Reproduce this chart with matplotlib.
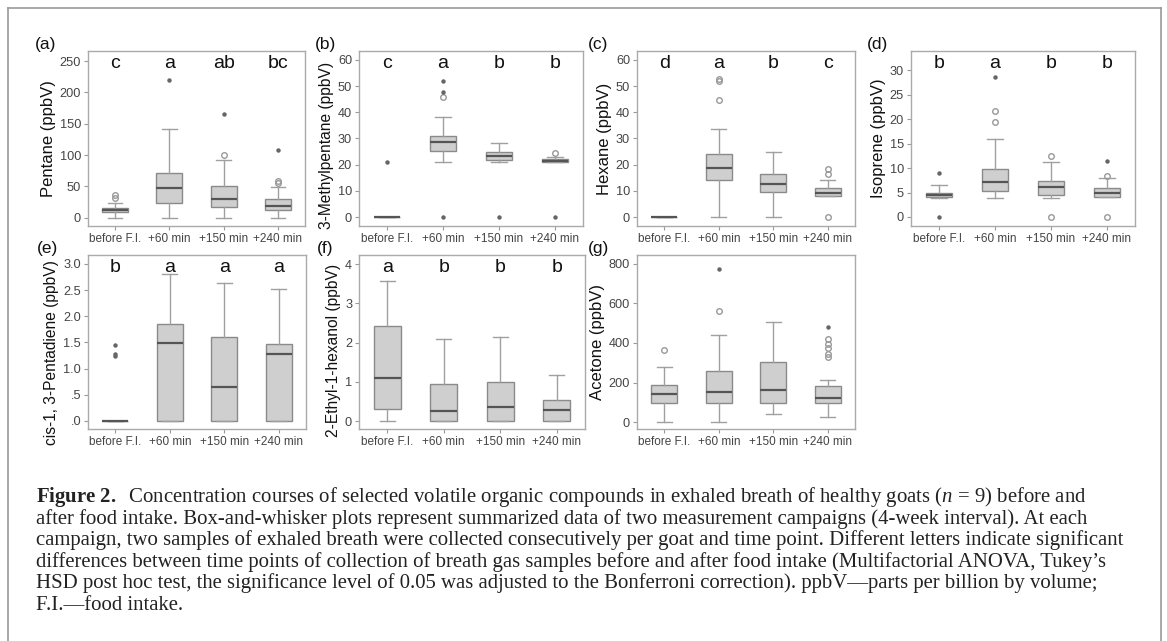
import matplotlib
matplotlib.use("Agg")
import matplotlib.pyplot as plt
from matplotlib.lines import Line2D
from matplotlib.ticker import FuncFormatter

plt.rcParams['font.family'] = ['Liberation Sans', 'DejaVu Sans']
plt.rcParams['mathtext.fontset'] = 'custom'
plt.rcParams['mathtext.rm'] = 'Liberation Serif'
plt.rcParams['mathtext.it'] = 'Liberation Serif:italic'
plt.rcParams['mathtext.bf'] = 'Liberation Serif:bold'

groups = ["before F.I.", "+60 min", "+150 min", "+240 min"]

# each box: (whisker low, q1, median, q3, whisker high)
pentane = [(0, 9, 12, 16, 23), (0, 23, 48, 71, 141), (0, 17, 30, 50, 92), (0, 13, 19, 30, 49)]
pentane_circ = [[31, 37], [], [100], [56, 59]]
pentane_star = [[], [220], [166], [108]]
pentane_letters = ["c", "a", "ab", "bc"]

methylp = [(0, 0, 0, 0, 0), (21, 25.3, 28.5, 31, 38.3), (20.9, 21.8, 23.4, 24.7, 28.2), (21, 21, 21.4, 22, 23)]
methylp_circ = [[], [45.7], [], [24.3]]
methylp_star = [[21], [47.6, 52, 0], [0], [0]]
methylp_letters = ["c", "a", "b", "b"]

hexane = [(0, 0, 0, 0, 0), (0, 14.1, 18.8, 24, 33.6), (0, 9.7, 12.5, 16.3, 24.7), (8, 8, 9.3, 11, 14.1)]
hexane_circ = [[], [44.7, 52, 52.8], [], [16.3, 18.2, 0]]
hexane_star = [[], [], [], []]
hexane_letters = ["d", "a", "b", "c"]

isoprene = [(3.9, 4.0, 4.5, 5.0, 6.5), (3.9, 5.3, 7.2, 9.8, 15.9), (3.9, 4.4, 6.1, 7.4, 11.3), (4.0, 4.1, 5.0, 5.85, 7.9)]
isoprene_circ = [[], [19.4, 21.6], [12.4, 0], [8.3, 0]]
isoprene_star = [[8.9, 0], [28.5], [], [11.5]]
isoprene_letters = ["b", "a", "b", "b"]

pentadiene = [(0, 0, 0, 0, 0), (0, 0, 1.49, 1.85, 2.80), (0, 0, 0.64, 1.61, 2.63), (0, 0, 1.28, 1.47, 2.52)]
pentadiene_circ = [[], [], [], []]
pentadiene_star = [[1.45, 1.28, 1.25], [], [], []]
pentadiene_letters = ["b", "a", "a", "a"]

ethylhex = [(0, 0.30, 1.11, 2.41, 3.58), (0, 0, 0.26, 0.94, 2.09), (0, 0, 0.35, 0.99, 2.14), (0, 0, 0.28, 0.54, 1.18)]
ethylhex_circ = [[], [], [], []]
ethylhex_star = [[], [], [], []]
ethylhex_letters = ["a", "b", "b", "b"]

acetone = [(0, 99, 141, 189, 281), (0, 94, 150, 257, 439), (39, 99, 163, 306, 504), (26, 94, 124, 184, 214)]
acetone_circ = [[363], [562], [], [330, 345, 375, 395, 420]]
acetone_star = [[], [774], [], [482]]
acetone_letters = None

# tag, tag x, y label, label size, label centre, boxes, circles, stars, letters, pixel box, ylim, yticks
panels = [
    ("(a)", 35, "Pentane (ppbV)", 12, 0.5, pentane, pentane_circ, pentane_star, pentane_letters,
     (88, 51, 305, 226), (-13, 266), [0, 50, 100, 150, 200, 250]),
    ("(b)", 315, "3-Methylpentane (ppbV)", 11.2, 0.46, methylp, methylp_circ, methylp_star, methylp_letters,
     (359, 51, 583, 226), (-3.4, 63.4), [0, 10, 20, 30, 40, 50, 60]),
    ("(c)", 588, "Hexane (ppbV)", 12, 0.5, hexane, hexane_circ, hexane_star, hexane_letters,
     (637, 51, 855, 226), (-3.4, 63.4), [0, 10, 20, 30, 40, 50, 60]),
    ("(d)", 867, "Isoprene (ppbV)", 12, 0.5, isoprene, isoprene_circ, isoprene_star, isoprene_letters,
     (911, 51, 1135, 226), (-1.84, 33.9), [0, 5, 10, 15, 20, 25, 30]),
    ("(e)", 37, "cis-1, 3-Pentadiene (ppbV)", 11.2, 0.44, pentadiene, pentadiene_circ, pentadiene_star, pentadiene_letters,
     (88, 255, 306, 429), (-0.153, 3.17), [0, 0.5, 1.0, 1.5, 2.0, 2.5, 3.0]),
    ("(f)", 317, "2-Ethyl-1-hexanol (ppbV)", 11.2, 0.45, ethylhex, ethylhex_circ, ethylhex_star, ethylhex_letters,
     (359, 255, 585, 429), (-0.2, 4.23), [0, 1, 2, 3, 4]),
    ("(g)", 588, "Acetone (ppbV)", 12, 0.5, acetone, acetone_circ, acetone_star, acetone_letters,
     (637, 255, 855, 429), (-35, 845), [0, 200, 400, 600, 800]),
]

W, H = 1167, 641
fig = plt.figure(figsize=(W / 100, H / 100), dpi=100)

box_col = "#cfcfcf"
edge_col = "#8a8a8a"
tick_col = "#444444"

for tag, tagx, ylab, labsize, laby, boxes, circ, star, letters, px, ylim, yticks in panels:
    x0, y0, x1, y1 = px
    ax = fig.add_axes([x0 / W, 1 - y1 / H, (x1 - x0) / W, (y1 - y0) / H])
    stats = []
    for lo, q1, med, q3, hi in boxes:
        stats.append(dict(whislo=lo, q1=q1, med=med, q3=q3, whishi=hi, fliers=[]))
    ax.bxp(stats, positions=[1, 2, 3, 4], widths=0.48, patch_artist=True, showfliers=False,
           boxprops=dict(facecolor=box_col, edgecolor=edge_col, linewidth=1.0),
           medianprops=dict(color="#555555", linewidth=1.6),
           whiskerprops=dict(color="#a0a0a0", linewidth=1.0),
           capprops=dict(color="#a0a0a0", linewidth=1.0), capwidths=0.27)
    for i in range(4):
        if circ[i]:
            ax.plot([i + 1] * len(circ[i]), circ[i], "o", ms=4, mfc="none", mec="#999999", mew=1.0)
        if star[i]:
            ax.plot([i + 1] * len(star[i]), star[i], "o", ms=2.2, color="#666666")
        if letters:
            ax.text(i + 1, 0.93, letters[i], transform=ax.get_xaxis_transform(),
                    ha="center", va="center", fontsize=14, color="#111111")
    ax.set_xlim(0.5, 4.5)
    ax.set_ylim(*ylim)
    ax.set_yticks(yticks)
    if tag == "(e)":
        ax.yaxis.set_major_formatter(FuncFormatter(lambda v, p: ("%.1f" % v).lstrip("0") if v < 1 else "%.1f" % v))
    ax.set_xticks([1, 2, 3, 4])
    ax.set_xticklabels(groups)
    ax.tick_params(axis="both", colors="#999999", labelcolor=tick_col, length=3, width=0.8)
    ax.tick_params(axis="x", labelsize=8.5, pad=2)
    ax.tick_params(axis="y", labelsize=9.2, pad=2)
    ax.set_ylabel(ylab, fontsize=labsize, color="#111111", labelpad=3)
    ax.yaxis.label.set_y(laby)
    for s in ax.spines.values():
        s.set_color("#aaaaaa")
        s.set_linewidth(1.0)
    fig.text(tagx / W, 1 - (y0 - 7) / H, tag, fontsize=12.5, ha="left", va="center", color="#111111")

# outer frame
fig.add_artist(Line2D([8 / W, 1161 / W], [1 - 8 / H, 1 - 8 / H], color="#999999", lw=1.2))
fig.add_artist(Line2D([8 / W, 8 / W], [1 - 8 / H, 0], color="#999999", lw=1.2))
fig.add_artist(Line2D([1161 / W, 1161 / W], [1 - 8 / H, 0], color="#999999", lw=1.2))

caption = [
    r"$\mathbf{Figure\ 2.}$  Concentration courses of selected volatile organic compounds in exhaled breath of healthy goats ($n$ = 9) before and",
    "after food intake. Box-and-whisker plots represent summarized data of two measurement campaigns (4-week interval). At each",
    "campaign, two samples of exhaled breath were collected consecutively per goat and time point. Different letters indicate significant",
    "differences between time points of collection of breath gas samples before and after food intake (Multifactorial ANOVA, Tukey\u2019s",
    "HSD post hoc test, the significance level of 0.05 was adjusted to the Bonferroni correction). ppbV\u2014parts per billion by volume;",
    "F.I.\u2014food intake.",
]
for k, line in enumerate(caption):
    fig.text(36 / W, 1 - (497 + 21.6 * k) / H, line, fontsize=14.95, family="Liberation Serif",
             ha="left", va="center", color="#222222")

fig.savefig("out.png", dpi=100)
